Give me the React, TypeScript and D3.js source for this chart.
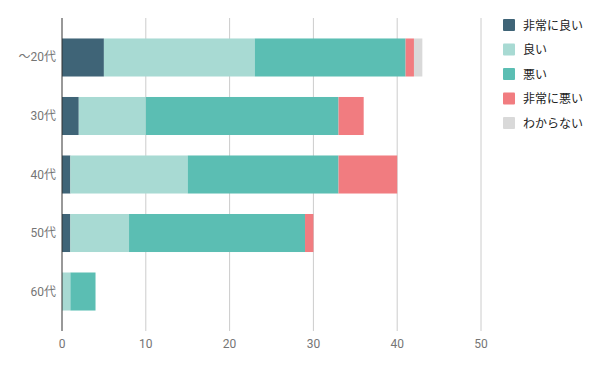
import React, { useRef, useEffect } from 'react';
import * as d3 from 'd3';

const categories = ['～20代', '30代', '40代', '50代', '60代'];
const seriesNames = ['非常に良い', '良い', '悪い', '非常に悪い', 'わからない'];
const seriesColors = ['#3f6477', '#a8dad3', '#5bbeb3', '#f17c80', '#d9d9d9'];

const veryGood = [5, 2, 1, 1, 0];
const good = [18, 8, 14, 7, 1];
const bad = [18, 23, 18, 21, 3];
const veryBad = [1, 3, 7, 1, 0];
const unknown = [1, 0, 0, 0, 0];

const xTicks = [0, 10, 20, 30, 40, 50];

const W = 600;
const H = 371;

const App: React.FC = () => {
    const ref = useRef<SVGSVGElement>(null);

    useEffect(() => {
        if (!ref.current) return;
        const svg = d3.select(ref.current);
        svg.selectAll("*").remove();

        const margin = { top: 18, left: 62, bottom: 331 };
        const series = [veryGood, good, bad, veryBad, unknown];
        const rows = categories.map((c, i) => {
            const r: any = { cat: c };
            seriesNames.forEach((s, j) => { r[s] = series[j][i]; });
            return r;
        });
        const stacked = d3.stack<any>().keys(seriesNames)(rows);

        const x = d3.scaleLinear().domain([0, 50]).range([margin.left, 481]);
        const y = d3.scaleBand().domain(categories).range([margin.top, margin.bottom])
            .paddingInner(0.35).paddingOuter(0.35);

        const font = "Roboto, 'Noto Sans CJK JP', sans-serif";

        // grid
        svg.append("g").selectAll("line")
            .data(xTicks.filter(t => t > 0))
            .enter().append("line")
            .attr("x1", d => x(d)).attr("x2", d => x(d))
            .attr("y1", margin.top).attr("y2", margin.bottom)
            .attr("stroke", "#cccccc").attr("stroke-width", 1);

        // bars
        svg.append("g").selectAll("g")
            .data(stacked)
            .enter().append("g")
            .attr("fill", (_, i) => seriesColors[i])
            .selectAll("rect")
            .data(d => d)
            .enter().append("rect")
            .attr("x", d => x(d[0]))
            .attr("y", d => y(d.data.cat) as number)
            .attr("width", d => Math.max(0, x(d[1]) - x(d[0])))
            .attr("height", y.bandwidth());

        // axis line
        svg.append("line")
            .attr("x1", x(0)).attr("x2", x(0))
            .attr("y1", margin.top).attr("y2", margin.bottom)
            .attr("stroke", "#333333").attr("stroke-width", 1);

        // x tick labels
        svg.append("g").selectAll("text")
            .data(xTicks)
            .enter().append("text")
            .attr("x", d => x(d)).attr("y", 348)
            .attr("text-anchor", "middle")
            .style("font-family", font).style("font-size", "12px")
            .style("fill", "#757575")
            .text(d => d);

        // y labels
        svg.append("g").selectAll("text")
            .data(categories)
            .enter().append("text")
            .attr("x", 56)
            .attr("y", d => (y(d) as number) + y.bandwidth() / 2 + 4)
            .attr("text-anchor", "end")
            .style("font-family", font).style("font-size", "12px")
            .style("fill", "#757575")
            .text(d => d);

        // legend
        const lg = svg.append("g").selectAll("g")
            .data(seriesNames)
            .enter().append("g")
            .attr("transform", (_, i) => `translate(503,${19 + i * 24.5})`);
        lg.append("rect")
            .attr("width", 12).attr("height", 12).attr("rx", 1)
            .attr("fill", (_, i) => seriesColors[i]);
        lg.append("text")
            .attr("x", 20).attr("y", 10.5)
            .style("font-family", font).style("font-size", "12px")
            .style("fill", "#222222")
            .text(d => d);
    }, []);

    return <svg ref={ref} width={W} height={H} style={{ display: 'block', position: 'absolute', left: 0, top: 0, background: '#fff' }}></svg>;
};

export default App;
